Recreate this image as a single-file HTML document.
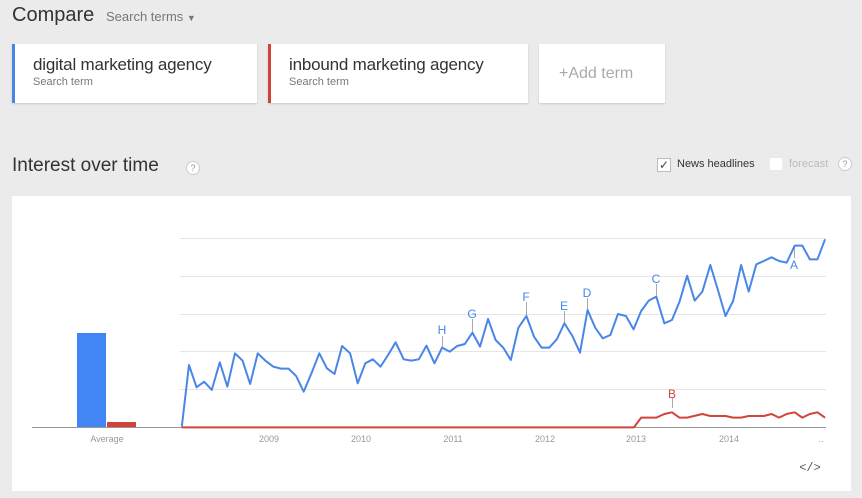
<!DOCTYPE html>
<html><head><meta charset="utf-8"><style>
body{margin:0;width:862px;height:498px;background:#ebebeb;font-family:"Liberation Sans",Arial,sans-serif;position:relative;overflow:hidden}
.a{position:absolute;white-space:nowrap}
.card{position:absolute;background:#fff;top:44px;height:59px;box-shadow:0 1px 2px rgba(0,0,0,.15)}
.t1{position:absolute;left:18px;top:11px;font-size:17px;color:#333;letter-spacing:-0.2px}
.t2{position:absolute;left:18px;top:32px;font-size:11px;color:#777}
</style></head><body>
<div class="a" style="left:12px;top:4px;font-size:20px;color:#333">Compare</div>
<div class="a" style="left:106px;top:9px;font-size:13px;color:#777">Search terms <span style="font-size:9px">▼</span></div>
<div class="card" style="left:12px;width:242px;border-left:3px solid #4a86e8"><div class="t1">digital marketing agency</div><div class="t2">Search term</div></div>
<div class="card" style="left:268px;width:257px;border-left:3px solid #d0443a"><div class="t1">inbound marketing agency</div><div class="t2">Search term</div></div>
<div class="card" style="left:539px;width:126px"><div class="a" style="left:20px;top:21px;font-size:16px;color:#aaa">+Add term</div></div>
<div class="a" style="left:12px;top:155px;font-size:19px;color:#333">Interest over time</div>
<div class="a" style="left:186px;top:161px;width:12px;height:12px;border:1px solid #ccc;border-radius:50%;background:#fff;font-size:9px;color:#999;text-align:center;line-height:12px">?</div>
<div class="a" style="left:657px;top:158px;width:12px;height:12px;border:1px solid #bbb;background:#fff;font-size:12px;line-height:12px;color:#444;text-align:center">✓</div>
<div class="a" style="left:677px;top:158px;font-size:11px;color:#333">News headlines</div>
<div class="a" style="left:770px;top:158px;width:12px;height:12px;background:#fff"></div>
<div class="a" style="left:789px;top:158px;font-size:11px;color:#bbb">forecast</div>
<div class="a" style="left:838px;top:157px;width:12px;height:12px;border:1px solid #ccc;border-radius:50%;background:#fff;font-size:9px;color:#999;text-align:center;line-height:12px">?</div>
<svg class="a" style="left:0;top:0" width="862" height="498">
<rect x="12" y="196" width="839" height="295" fill="#fff"/>
<g stroke="#e6e6e6" stroke-width="1">
<line x1="180" x2="826" y1="238.5" y2="238.5"/><line x1="180" x2="826" y1="276.5" y2="276.5"/><line x1="180" x2="826" y1="314.5" y2="314.5"/><line x1="180" x2="826" y1="351.5" y2="351.5"/><line x1="180" x2="826" y1="389.5" y2="389.5"/>
</g>
<rect x="77" y="333" width="29" height="94" fill="#4285f4"/>
<rect x="107" y="422" width="29" height="5" fill="#d0443a"/>
<line x1="32" x2="826" y1="427.5" y2="427.5" stroke="#999"/>
<g stroke="#aaa" stroke-width="1">
<line x1="442.5" x2="442.5" y1="336" y2="348"/><line x1="472.5" x2="472.5" y1="319" y2="332"/><line x1="526.5" x2="526.5" y1="302" y2="315"/><line x1="564.5" x2="564.5" y1="311" y2="324"/><line x1="587.5" x2="587.5" y1="298" y2="311"/><line x1="656.5" x2="656.5" y1="284" y2="297"/><line x1="794.5" x2="794.5" y1="246" y2="258"/><line x1="672.5" x2="672.5" y1="398" y2="408"/>
</g>
<g transform="translate(170,230) scale(0.4218,0.3333)" fill="none" stroke-width="2" stroke-linejoin="round">
<polyline vector-effect="non-scaling-stroke" stroke="#d0443a" points="28,592 1100,592 1117,563 1153,563 1172,552 1190,547 1208,563 1226,563 1262,552 1281,558 1317,558 1335,563 1354,563 1372,558 1408,558 1426,552 1444,563 1462,552 1481,547 1499,563 1517,552 1535,547 1553,563"/>
<polyline vector-effect="non-scaling-stroke" stroke="#4a86e8" points="28,590 45,405 63,472 81,455 99,480 118,397 136,470 154,370 172,392 190,462 208,370 227,393 245,410 263,416 281,416 299,438 317,485 336,428 354,370 372,415 390,432 408,348 427,370 445,460 463,400 481,388 499,410 517,375 535,337 554,388 572,392 590,388 608,347 627,400 645,353 663,365 681,348 699,342 717,308 735,350 754,267 772,330 790,353 808,390 826,293 845,258 863,320 881,353 899,353 917,328 935,280 954,318 972,368 990,240 1008,293 1026,325 1044,315 1062,252 1081,258 1099,298 1117,243 1135,212 1153,200 1172,280 1190,270 1208,215 1226,137 1244,212 1262,185 1281,105 1299,180 1317,258 1335,213 1354,105 1372,185 1390,103 1408,93 1426,82 1444,93 1462,98 1481,47 1499,47 1517,88 1535,88 1553,28"/>
</g>
<g font-family="Liberation Sans,Arial,sans-serif" font-size="12" fill="#4a86e8" text-anchor="middle">
<text x="442" y="334">H</text><text x="472" y="318">G</text><text x="526" y="301">F</text><text x="564" y="310">E</text><text x="587" y="297">D</text><text x="656" y="283">C</text><text x="794" y="269">A</text>
<text x="672" y="398" fill="#d0443a">B</text>
</g>
<g font-family="Liberation Sans,Arial,sans-serif" font-size="9" fill="#999" text-anchor="middle">
<text x="107" y="442">Average</text>
<text x="269" y="442">2009</text><text x="361" y="442">2010</text><text x="453" y="442">2011</text><text x="545" y="442">2012</text><text x="636" y="442">2013</text><text x="729" y="442">2014</text><text x="821" y="442">..</text>
</g>
<text x="810" y="471" font-family="Liberation Mono,monospace" font-size="12" fill="#555" text-anchor="middle">&lt;/&gt;</text>
</svg>
</body></html>
